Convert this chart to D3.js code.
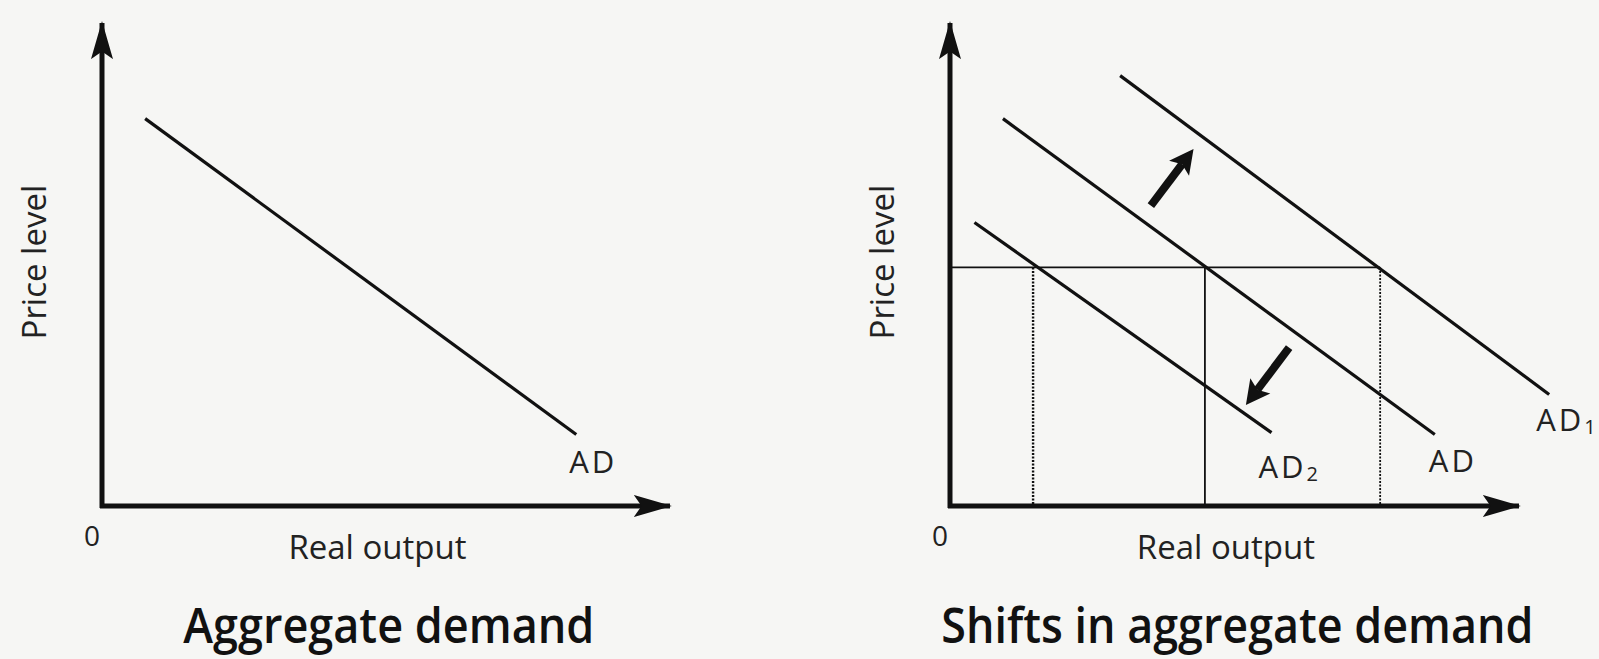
<!DOCTYPE html>
<html>
<head>
<meta charset="utf-8">
<script src="https://cdn.jsdelivr.net/npm/d3@7"></script>
<style>
  html, body { margin: 0; padding: 0; background: #f6f6f4; }
  svg { display: block; font-family: "Open Sans", sans-serif; }
</style>
</head>
<body>
<script>
// values, in a 0..100 data space for each panel
const titles = ["Aggregate demand", "Shifts in aggregate demand"];
const xLabel = "Real output";
const yLabel = "Price level";
const originLabel = "0";

const adLeft = [[7.6, 80.2], [83.5, 14.8]];
const adRight = [[9.3, 80.2], [85.2, 14.8]];
const ad1 = [[29.9, 89.1], [105.3, 23.1]];
const ad2 = [[4.3, 58.7], [56.5, 15.2]];

const priceLevel = 49.4;
const outputAD2 = 14.6;
const outputAD = 44.8;
const outputAD1 = 75.6;

const arrowUp = [[35.3, 62.2], [42.8, 73.9]];
const arrowDown = [[59.6, 32.8], [52.0, 20.9]];

const width = 1599;
const height = 659;

const svg = d3.create("svg").attr("width", width).attr("height", height);
svg.append("rect").attr("width", width).attr("height", height).attr("fill", "#f6f6f4");

svg.append("defs").append("marker")
  .attr("id", "axis-head")
  .attr("viewBox", "0 0 10 10")
  .attr("preserveAspectRatio", "none")
  .attr("refX", 9.5).attr("refY", 5)
  .attr("markerUnits", "userSpaceOnUse")
  .attr("markerWidth", 38).attr("markerHeight", 22)
  .attr("orient", "auto")
  .append("path").attr("d", "M0,0 L10,5 L0,10 L2,5 Z").attr("fill", "#111");

const y = d3.scaleLinear([0, 100], [506, 23]);
const panelOrigins = [102, 950];
const titleWidths = [411, 592];

const line = (x) => d3.line().x((d) => x(d[0])).y((d) => y(d[1]));

function drawAxes(g, x, i) {
  g.append("line")
    .attr("x1", x(0)).attr("y1", y(0) + 2)
    .attr("x2", x(0)).attr("y2", y(100))
    .attr("stroke", "#111").attr("stroke-width", 5)
    .attr("marker-end", "url(#axis-head)");
  g.append("line")
    .attr("x1", x(0) - 2).attr("y1", y(0))
    .attr("x2", x(100)).attr("y2", y(0))
    .attr("stroke", "#111").attr("stroke-width", 5)
    .attr("marker-end", "url(#axis-head)");

  g.append("text")
    .attr("x", x(0) - 10).attr("y", y(0) + 40)
    .attr("text-anchor", "middle")
    .attr("font-size", 28).attr("fill", "#222")
    .text(originLabel);
  g.append("text")
    .attr("x", x(48.5)).attr("y", y(0) + 53)
    .attr("text-anchor", "middle")
    .attr("font-size", 33).attr("fill", "#222")
    .text(xLabel);
  g.append("text")
    .attr("transform", `translate(${x(0) - 56},${y(50.5)}) rotate(-90)`)
    .attr("text-anchor", "middle")
    .attr("font-size", 33).attr("fill", "#222")
    .text(yLabel);
  g.append("text")
    .attr("x", x(50.5)).attr("y", 643)
    .attr("text-anchor", "middle")
    .attr("font-size", 48).attr("font-weight", 600).attr("fill", "#111")
    .attr("textLength", titleWidths[i]).attr("lengthAdjust", "spacingAndGlyphs")
    .text(titles[i]);
}

function curveLabel(g, x, end, name, sub, dx, dy) {
  const t = g.append("text")
    .attr("x", x(end[0]) + dx).attr("y", y(end[1]) + dy)
    .attr("font-size", 31).attr("letter-spacing", 3).attr("fill", "#222")
    .text(name);
  if (sub) {
    t.append("tspan").attr("font-size", 20).attr("dy", 3).attr("letter-spacing", 0).text(sub);
  }
}

// thick arrow: shaft stops at the base of a filled, slightly notched head
function shiftArrow(g, x, d) {
  const x0 = x(d[0][0]), y0 = y(d[0][1]);
  const x1 = x(d[1][0]), y1 = y(d[1][1]);
  const len = Math.hypot(x1 - x0, y1 - y0);
  const ux = (x1 - x0) / len, uy = (y1 - y0) / len;
  const px = -uy, py = ux;
  const headLen = 24, headHalf = 12.5, notch = 5;
  const bx = x1 - ux * headLen, by = y1 - uy * headLen;
  g.append("line")
    .attr("x1", x0).attr("y1", y0)
    .attr("x2", bx + ux * notch).attr("y2", by + uy * notch)
    .attr("stroke", "#111").attr("stroke-width", 8);
  g.append("path")
    .attr("d", d3.line()([
      [x1, y1],
      [bx + px * headHalf, by + py * headHalf],
      [bx + ux * notch, by + uy * notch],
      [bx - px * headHalf, by - py * headHalf]
    ]) + "Z")
    .attr("fill", "#111");
}

// left panel
{
  const x = d3.scaleLinear([0, 100], [panelOrigins[0], panelOrigins[0] + 568]);
  const g = svg.append("g");
  drawAxes(g, x, 0);
  g.append("path").attr("d", line(x)(adLeft))
    .attr("fill", "none").attr("stroke", "#111").attr("stroke-width", 3.2);
  curveLabel(g, x, adLeft[1], "AD", null, -7, 38);
}

// right panel
{
  const x = d3.scaleLinear([0, 100], [panelOrigins[1], panelOrigins[1] + 569]);
  const g = svg.append("g");

  // price line and output guides
  g.append("line")
    .attr("x1", x(0)).attr("y1", y(priceLevel))
    .attr("x2", x(outputAD1)).attr("y2", y(priceLevel))
    .attr("stroke", "#111").attr("stroke-width", 1.8);
  g.append("line")
    .attr("x1", x(outputAD)).attr("y1", y(priceLevel))
    .attr("x2", x(outputAD)).attr("y2", y(0))
    .attr("stroke", "#111").attr("stroke-width", 1.8);
  [outputAD2, outputAD1].forEach((q, i) => {
    g.append("line")
      .attr("x1", x(q)).attr("y1", y(priceLevel))
      .attr("x2", x(q)).attr("y2", y(0))
      .attr("stroke", "#111").attr("stroke-width", i ? 1.8 : 2.4)
      .attr("stroke-dasharray", "2,1.5");
  });

  drawAxes(g, x, 1);

  [adRight, ad1, ad2].forEach((d) => {
    g.append("path").attr("d", line(x)(d))
      .attr("fill", "none").attr("stroke", "#111").attr("stroke-width", 3.2);
  });

  shiftArrow(g, x, arrowUp);
  shiftArrow(g, x, arrowDown);

  curveLabel(g, x, adRight[1], "AD", null, -6, 37);
  curveLabel(g, x, ad1[1], "AD", "1", -13, 37);
  curveLabel(g, x, ad2[1], "AD", "2", -13, 45);
}

document.body.appendChild(svg.node());
</script>
</body>
</html>
